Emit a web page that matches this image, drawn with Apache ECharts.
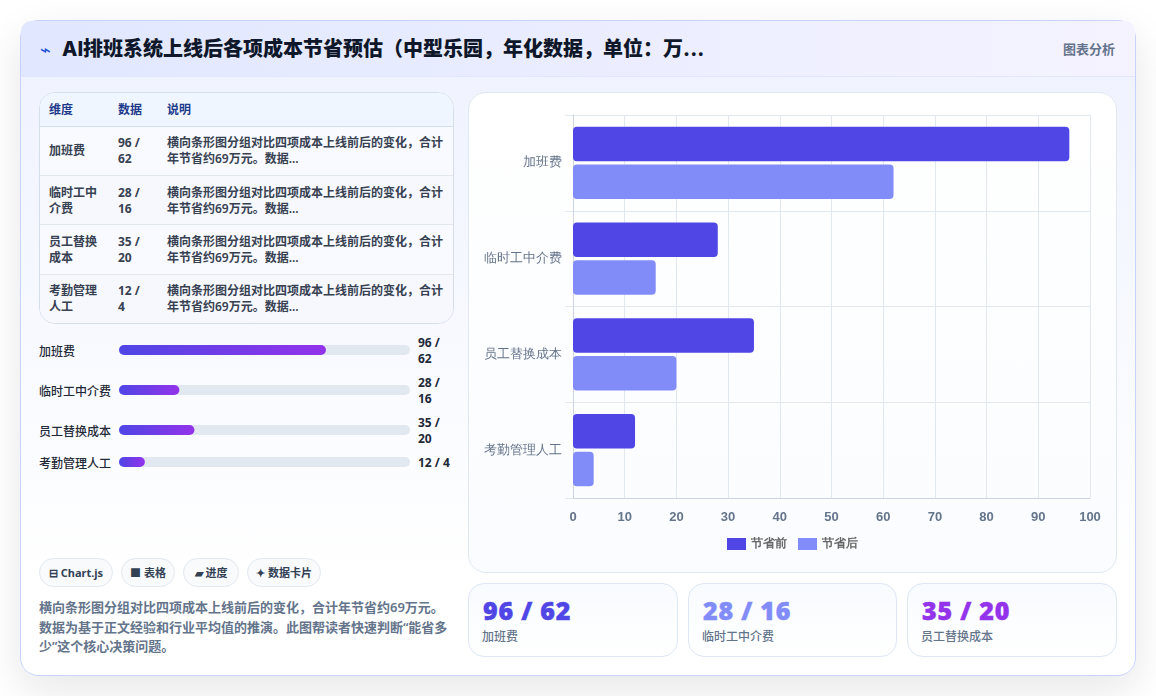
<!DOCTYPE html>
<html lang="zh">
<head>
<meta charset="utf-8">
<title>AI排班系统成本节省预估</title>
<script src="https://cdn.jsdelivr.net/npm/echarts@6/dist/echarts.min.js"></script>
<style>
  * { box-sizing: border-box; margin: 0; padding: 0; }
  html, body { width: 1156px; height: 696px; overflow: hidden; background: #fff; }
  body { position: relative; font-family: "Noto Sans", "Noto Sans CJK SC", sans-serif; color: #1f2937; }
  .page { position: absolute; left: 20px; top: 20px; width: 1116px; height: 656px; border: 1px solid #c7d2fe; border-radius: 18px;
          background: linear-gradient(180deg, #eef2ff 0%, #ffffff 85%); box-shadow: 0 14px 40px rgba(15, 23, 42, .10); }
  .head { position: absolute; left: 0; top: 0; width: 1114px; height: 56px; border-bottom: 1px solid #e0e7ff; border-radius: 10px 10px 0 0;
          background: linear-gradient(90deg, #e0e7ff, #f5f3ff); }
  .head .icon { position: absolute; left: 19px; top: 14px; font-size: 18px; line-height: 30px; color: #1d4ed8; font-family: "DejaVu Sans"; }
  .head h1 { position: absolute; left: 41px; top: 13px; font-family: Inter, "Noto Sans CJK SC", sans-serif; font-size: 20px; line-height: 30px; font-weight: 800; color: #0f172a; white-space: nowrap; }
  .head .tag { position: absolute; right: 20px; top: 18px; font-size: 13px; line-height: 20px; font-weight: 600; color: #64748b; }

  .tbl { position: absolute; left: 39px; top: 92px; width: 415px; height: 232px; border: 1px solid #d5dfec; border-radius: 16px; overflow: hidden; background: #fff; }
  table { width: 100%; height: 100%; border-collapse: collapse; table-layout: fixed; font-size: 12px; line-height: 16px; font-weight: 600; }
  th { height: 33px; text-align: left; padding: 1px 9px 0; color: #1e3a8a; font-weight: 700; background: #f0f6ff; border-bottom: 1px solid #d5dfec; }
  td { padding: 1px 9px 0; color: #374151; border-bottom: 1px solid #e2e8f0; background: #f8faff; }
  tr:nth-child(even) td { background: #f6f8fe; }
  tr:last-child td { border-bottom: 0; }
  td.num { font-weight: 700; }

  .row { position: absolute; left: 39px; width: 415px; }
  .row .lab { position: absolute; left: 0; top: 1px; font-size: 12px; line-height: 16px; font-weight: 500; color: #1f2937; white-space: nowrap; }
  .row .bar { position: absolute; left: 80px; top: 2px; width: 291px; height: 10px; }
  .row .val { position: absolute; left: 379px; width: 38px; font-size: 12px; line-height: 16px; font-weight: 700; color: #1f2937; }

  .chip { position: absolute; top: 558px; height: 29px; border: 1px solid #e2e8f0; border-radius: 15px; background: #f8fafc;
          font-size: 11px; line-height: 28px; font-weight: 700; color: #334155; text-align: center; white-space: nowrap; }
  .note { position: absolute; left: 39px; top: 598px; width: 415px; font-size: 13px; line-height: 19.5px; font-weight: 600; color: #64748b; }

  .panel { position: absolute; left: 468px; top: 92px; width: 649px; height: 481px; border: 1px solid #e2e8f0; border-radius: 18px;
           background: linear-gradient(180deg, #ffffff, #fafcff); }
  #chart { position: absolute; left: 0; top: 0; width: 647px; height: 479px; }
  .card { position: absolute; top: 583px; height: 74px; border: 1px solid #dde7f5; border-radius: 16px; background: linear-gradient(180deg, #f8fbff, #fff); }
  .card b { position: absolute; left: 14px; top: 9px; font-family: "Noto Sans", sans-serif; font-size: 25px; line-height: 34px; font-weight: 900; letter-spacing: .8px; -webkit-text-stroke: .5px currentColor; white-space: nowrap; }
  .card span { position: absolute; left: 13px; top: 44px; font-size: 12px; line-height: 18px; font-weight: 500; color: #64748b; }
</style>
</head>
<body>
<div class="page">
  <div class="head">
    <span class="icon">⌁</span>
    <h1 id="title"></h1>
    <span class="tag">图表分析</span>
  </div>
</div>
<div class="tbl"><table id="table"></table></div>
<div id="rows"></div>
<div id="chips"></div>
<div class="note" id="note"></div>
<div class="panel"><div id="chart"></div></div>
<div id="cards"></div>

<script>
const titleText = 'AI排班系统上线后各项成本节省预估（中型乐园，年化数据，单位：万...';
const categories = ['加班费', '临时工中介费', '员工替换成本', '考勤管理人工'];
const beforeValues = [96, 28, 35, 12];
const afterValues = [62, 16, 20, 4];
const seriesNames = ['节省前', '节省后'];
const tableHeads = ['维度', '数据', '说明'];
const tableNote = '横向条形图分组对比四项成本上线前后的变化，合计年节省约69万元。数据...';
const noteText = '横向条形图分组对比四项成本上线前后的变化，合计年节省约69万元。数据为基于正文经验和行业平均值的推演。此图帮读者快速判断“能省多少”这个核心决策问题。';
const chipLabels = ['⊟ Chart.js', '■ 表格', '▰ 进度', '✦ 数据卡片'];
const progressScale = 135;
const xTicks = [0, 100, 10];

const pair = i => beforeValues[i] + ' / ' + afterValues[i];
const dark = '#4f46e5', light = '#818cf8', violet = '#9333ea';

document.getElementById('title').textContent = titleText;
document.getElementById('note').textContent = noteText;

// Summary table
const colWidths = [69, 49, 297];
document.getElementById('table').innerHTML =
  '<colgroup>' + colWidths.map(w => `<col style="width:${w}px">`).join('') + '</colgroup>' +
  '<thead><tr>' + tableHeads.map(h => `<th>${h}</th>`).join('') + '</tr></thead><tbody>' +
  categories.map((c, i) => `<tr><td>${c}</td><td class="num">${pair(i)}</td><td>${tableNote}</td></tr>`).join('') +
  '</tbody>';

// Progress rows: each track is a small bar chart on a shared scale
const rowTops = [343, 383, 423, 455];
const valTops = [-8, -8, -8, 0];
const rowsBox = document.getElementById('rows');
categories.forEach((c, i) => {
  const row = document.createElement('div');
  row.className = 'row';
  row.style.top = rowTops[i] + 'px';
  row.innerHTML = `<div class="lab">${c}</div><div class="bar"></div><div class="val" style="top:${valTops[i]}px">${pair(i)}</div>`;
  rowsBox.appendChild(row);
  echarts.init(row.querySelector('.bar')).setOption({
    animation: false,
    grid: { left: 0, right: 0, top: 0, bottom: 0 },
    xAxis: { type: 'value', min: 0, max: progressScale, show: false },
    yAxis: { type: 'category', data: [c], show: false },
    series: [{
      type: 'bar', barWidth: 10, data: [beforeValues[i]],
      showBackground: true,
      backgroundStyle: { color: '#e2e8f0', borderRadius: 5 },
      itemStyle: {
        borderRadius: 5,
        color: new echarts.graphic.LinearGradient(0, 0, 1, 0, [
          { offset: 0, color: dark }, { offset: 1, color: violet }
        ])
      }
    }]
  });
});

// Chips
const chipBoxes = [[39, 74], [121, 54], [183, 56], [247, 74]];
document.getElementById('chips').innerHTML = chipLabels.map((t, i) =>
  `<div class="chip" style="left:${chipBoxes[i][0]}px;width:${chipBoxes[i][1]}px">${t}</div>`).join('');

// Stat cards for the first three categories
const cardBoxes = [[468, 210], [688, 209], [907, 210]];
const cardColors = [dark, light, violet];
document.getElementById('cards').innerHTML = cardBoxes.map((box, i) =>
  `<div class="card" style="left:${box[0]}px;width:${box[1]}px"><b style="color:${cardColors[i]}">${pair(i)}</b><span>${categories[i]}</span></div>`).join('');

// Grouped horizontal bars
const gridLine = '#e2e8f0', axisLine = '#cbd5e1';
const chart = echarts.init(document.getElementById('chart'));
chart.setOption({
  animation: false,
  grid: { left: 104, right: 26, top: 22, bottom: 74 },
  legend: {
    bottom: 17, left: 'center', itemWidth: 19, itemHeight: 12, itemGap: 11,
    icon: 'rect', textStyle: { fontSize: 12, color: '#666', fontWeight: 600 }
  },
  xAxis: {
    type: 'value', min: xTicks[0], max: xTicks[1], interval: xTicks[2],
    axisLine: { show: true, onZero: false, lineStyle: { color: axisLine } },
    axisTick: { show: false },
    axisLabel: { fontFamily: 'Liberation Sans', fontSize: 13, fontWeight: 'bold', color: '#64748b', margin: 13 },
    splitLine: { lineStyle: { color: gridLine } }
  },
  yAxis: {
    type: 'category', inverse: true, data: categories,
    axisLine: { show: true, lineStyle: { color: axisLine } },
    axisTick: { show: true, length: 8, lineStyle: { color: gridLine } },
    axisLabel: { fontSize: 13, color: '#64748b', margin: 11, padding: [4, 0, 0, 0] },
    splitLine: { show: true, lineStyle: { color: gridLine } }
  },
  series: [
    { name: seriesNames[0], type: 'bar', data: beforeValues, barWidth: 34.5, barGap: '10%', itemStyle: { color: dark, borderRadius: 4 } },
    { name: seriesNames[1], type: 'bar', data: afterValues, barWidth: 34.5, itemStyle: { color: light, borderRadius: 4 } }
  ]
});
</script>
</body>
</html>
